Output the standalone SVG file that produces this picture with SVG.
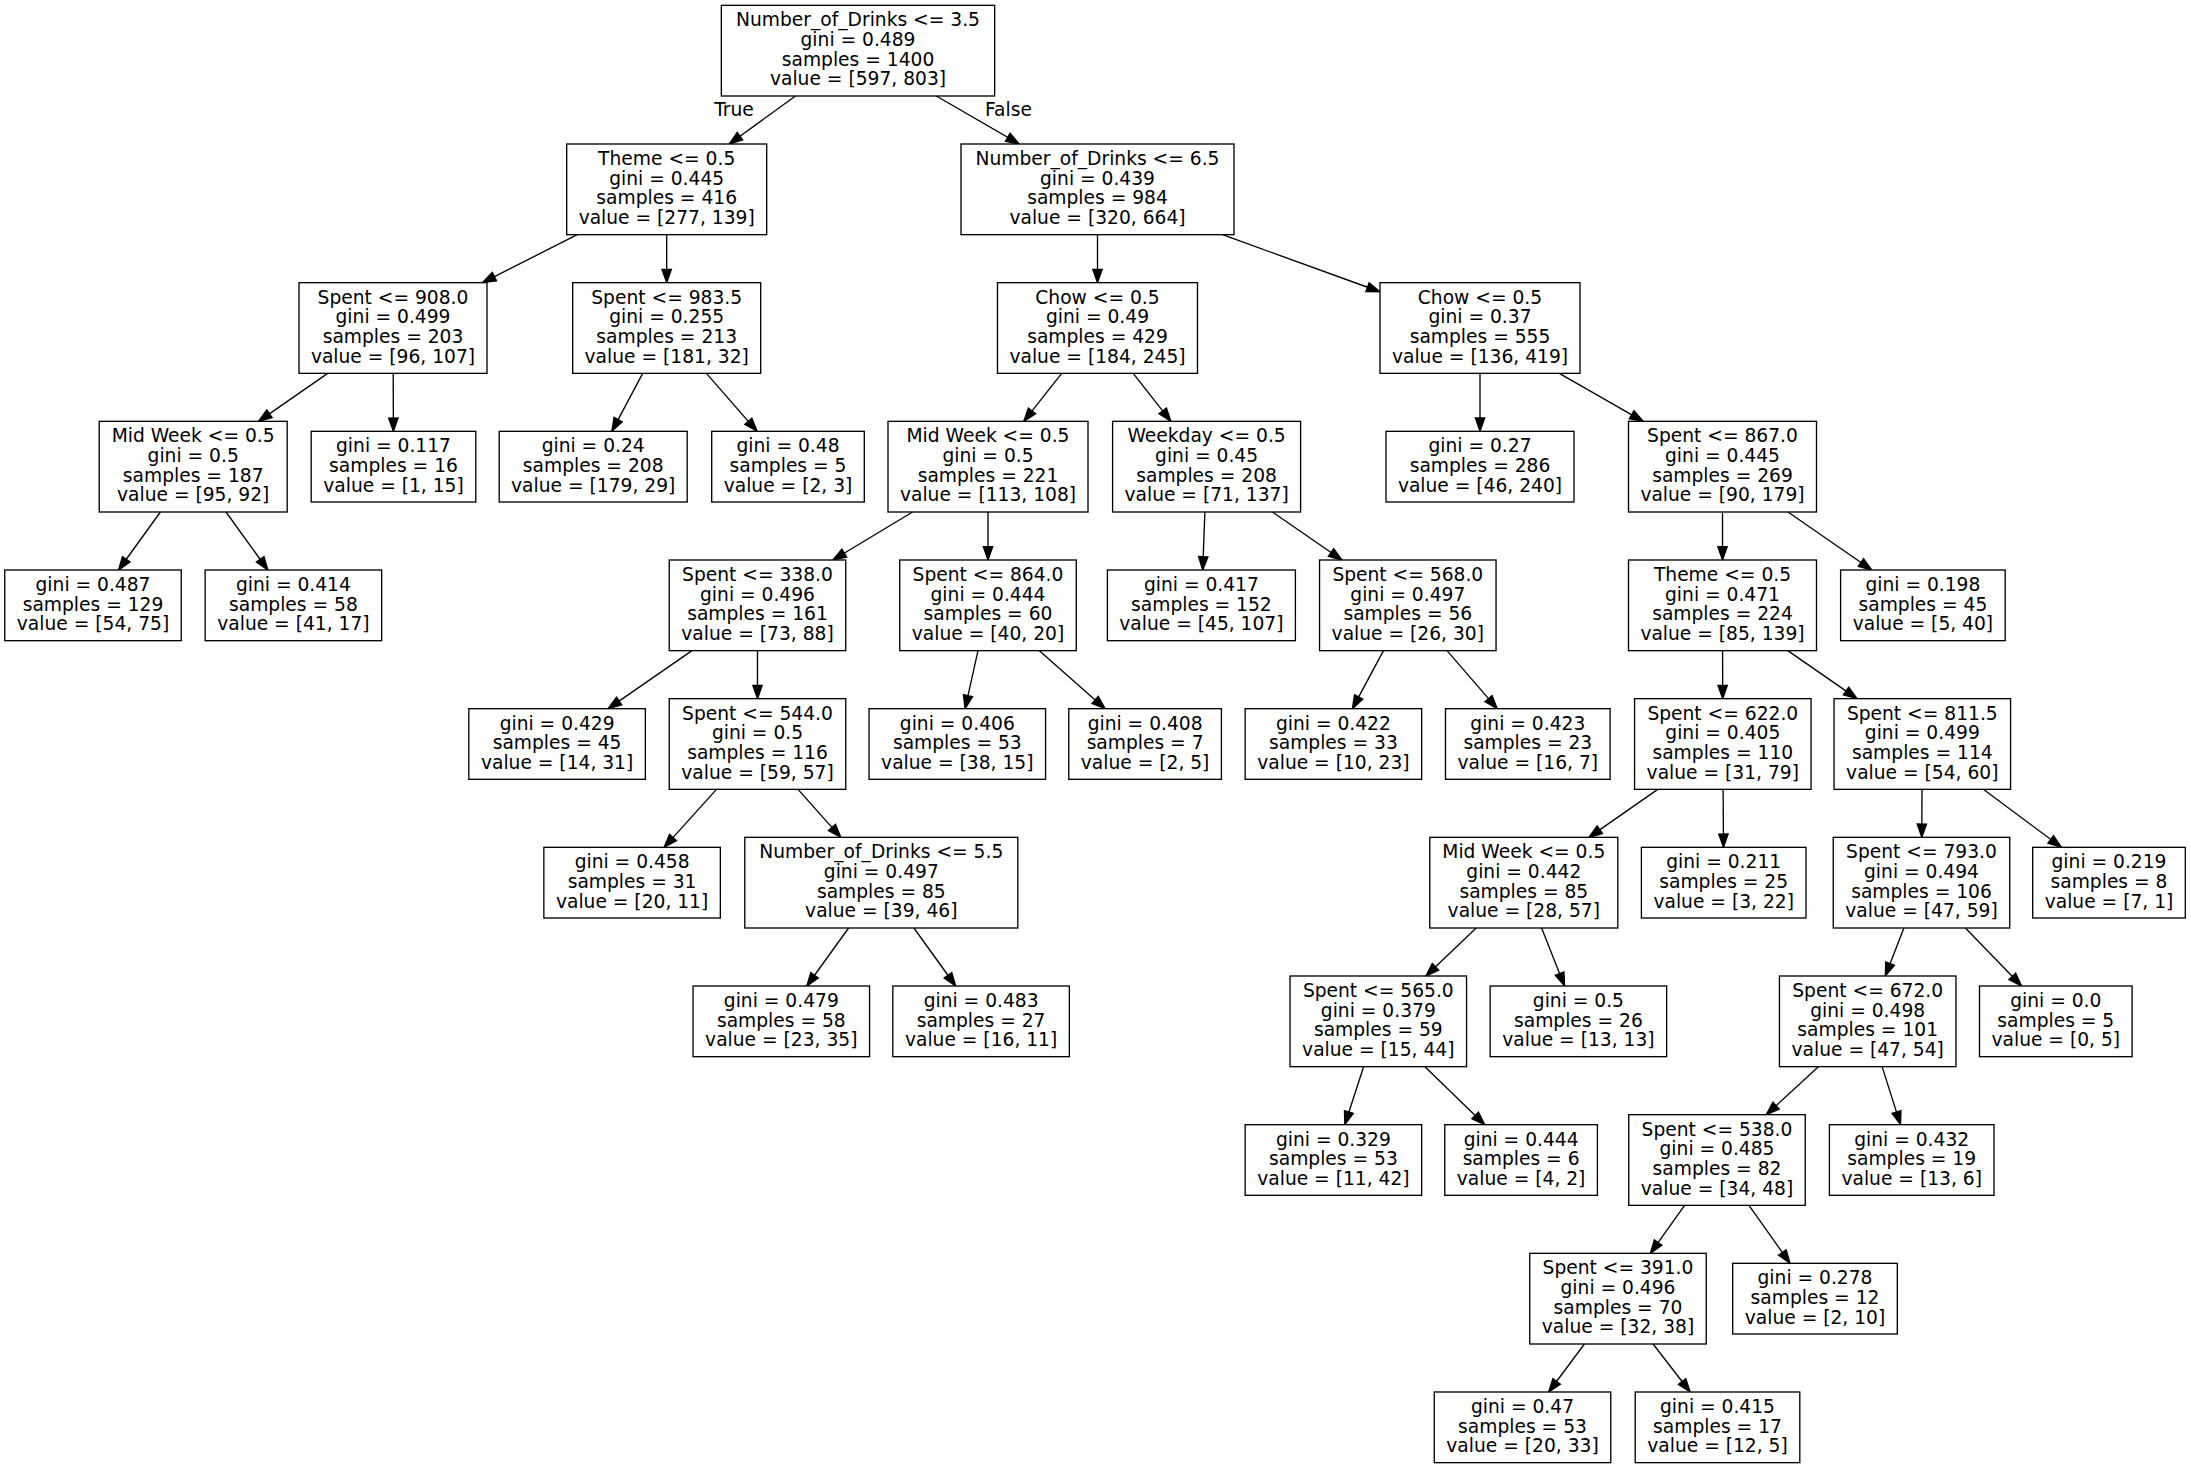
<svg xmlns="http://www.w3.org/2000/svg" width="2191" height="1468" viewBox="0 0 2191 1468">
<style>
.n rect{fill:#fff;stroke:#000;stroke-width:1.33}
text{font-family:"DejaVu Sans","Liberation Sans",sans-serif;font-size:18.67px;text-anchor:middle;fill:#000}
.e line{stroke:#000;stroke-width:1.33;marker-end:url(#ah)}
</style>
<defs>
<marker id="ah" markerUnits="userSpaceOnUse" viewBox="0 -6 15 12" refX="13.3" refY="0" markerWidth="15" markerHeight="12" orient="auto" overflow="visible">
<path d="M0,-4.67L13.3,0L0,4.67z" fill="#000" stroke="#000" stroke-width="1.33"/>
</marker>
</defs>
<rect width="2191" height="1468" fill="#fff"/>
<g id="edges" class="e">
<line x1="795.5" y1="96" x2="729.2" y2="144"/>
<line x1="936.3" y1="96" x2="1019.2" y2="144"/>
<line x1="577.2" y1="234.67" x2="482.5" y2="282.67"/>
<line x1="666.7" y1="234.67" x2="666.7" y2="282.67"/>
<line x1="1097.5" y1="234.67" x2="1097.5" y2="282.67"/>
<line x1="1222.5" y1="234.67" x2="1380" y2="291.75"/>
<line x1="327.7" y1="373.33" x2="258.5" y2="421.33"/>
<line x1="393.2" y1="373.33" x2="393.4" y2="431.33"/>
<line x1="642.7" y1="373.33" x2="611.9" y2="431.33"/>
<line x1="706.4" y1="373.33" x2="757.1" y2="431.33"/>
<line x1="1061.7" y1="373.33" x2="1023.8" y2="421.33"/>
<line x1="1133.2" y1="373.33" x2="1170.9" y2="421.33"/>
<line x1="1480" y1="373.33" x2="1480" y2="431.33"/>
<line x1="1559.3" y1="373.33" x2="1643.2" y2="421.33"/>
<line x1="160.4" y1="512" x2="118.5" y2="570"/>
<line x1="226" y1="512" x2="267.9" y2="570"/>
<line x1="912.6" y1="512" x2="832.9" y2="560"/>
<line x1="988" y1="512" x2="988" y2="560"/>
<line x1="1204.9" y1="512" x2="1202.7" y2="570"/>
<line x1="1272.4" y1="512" x2="1342" y2="560"/>
<line x1="1722.5" y1="512" x2="1722.5" y2="560"/>
<line x1="1788" y1="512" x2="1871.8" y2="570"/>
<line x1="692" y1="650.67" x2="608.2" y2="708.67"/>
<line x1="757.5" y1="650.67" x2="757.5" y2="698.67"/>
<line x1="978" y1="650.67" x2="965.1" y2="708.67"/>
<line x1="1039.4" y1="650.67" x2="1105.1" y2="708.67"/>
<line x1="1383.5" y1="650.67" x2="1352.4" y2="708.67"/>
<line x1="1447" y1="650.67" x2="1497.2" y2="708.67"/>
<line x1="1722.6" y1="650.67" x2="1722.7" y2="698.67"/>
<line x1="1787.8" y1="650.67" x2="1857" y2="698.67"/>
<line x1="716.5" y1="789.33" x2="664.1" y2="847.33"/>
<line x1="798" y1="789.33" x2="840.8" y2="837.33"/>
<line x1="1657.7" y1="789.33" x2="1588.9" y2="837.33"/>
<line x1="1723.1" y1="789.33" x2="1723.5" y2="847.33"/>
<line x1="1922" y1="789.33" x2="1921.8" y2="837.33"/>
<line x1="1983.3" y1="789.33" x2="2061.4" y2="847.33"/>
<line x1="848.6" y1="928" x2="806.8" y2="986"/>
<line x1="913.9" y1="928" x2="955.7" y2="986"/>
<line x1="1476.2" y1="928" x2="1425.9" y2="976"/>
<line x1="1541.6" y1="928" x2="1564.5" y2="986"/>
<line x1="1903.9" y1="928" x2="1885.3" y2="976"/>
<line x1="1965.4" y1="928" x2="2021.6" y2="986"/>
<line x1="1363.6" y1="1066.67" x2="1344.8" y2="1124.67"/>
<line x1="1425" y1="1066.67" x2="1484.7" y2="1124.67"/>
<line x1="1818.4" y1="1066.67" x2="1766.3" y2="1114.67"/>
<line x1="1882.1" y1="1066.67" x2="1900.5" y2="1124.67"/>
<line x1="1684.6" y1="1205.33" x2="1650.4" y2="1253.33"/>
<line x1="1749" y1="1205.33" x2="1790" y2="1263.33"/>
<line x1="1584.4" y1="1344" x2="1548.7" y2="1392"/>
<line x1="1653.1" y1="1344" x2="1690.2" y2="1392"/>
<text x="734" y="116">True</text>
<text x="1008.5" y="116">False</text>
</g>
<g id="n0" class="n"><rect x="721.33" y="5.33" width="273.33" height="90.67"/><text x="858" y="26.33"><tspan x="858">Number_of_Drinks &lt;= 3.5</tspan><tspan x="858" dy="19.7">gini = 0.489</tspan><tspan x="858" dy="19.7">samples = 1400</tspan><tspan x="858" dy="19.7">value = [597, 803]</tspan></text></g>
<g id="n1" class="n"><rect x="566.7" y="144" width="200" height="90.67"/><text x="666.7" y="165"><tspan x="666.7">Theme &lt;= 0.5</tspan><tspan x="666.7" dy="19.7">gini = 0.445</tspan><tspan x="666.7" dy="19.7">samples = 416</tspan><tspan x="666.7" dy="19.7">value = [277, 139]</tspan></text></g>
<g id="n2" class="n"><rect x="961" y="144" width="273" height="90.67"/><text x="1097.5" y="165"><tspan x="1097.5">Number_of_Drinks &lt;= 6.5</tspan><tspan x="1097.5" dy="19.7">gini = 0.439</tspan><tspan x="1097.5" dy="19.7">samples = 984</tspan><tspan x="1097.5" dy="19.7">value = [320, 664]</tspan></text></g>
<g id="n3" class="n"><rect x="299" y="282.67" width="188" height="90.67"/><text x="393" y="303.67"><tspan x="393">Spent &lt;= 908.0</tspan><tspan x="393" dy="19.7">gini = 0.499</tspan><tspan x="393" dy="19.7">samples = 203</tspan><tspan x="393" dy="19.7">value = [96, 107]</tspan></text></g>
<g id="n4" class="n"><rect x="572.7" y="282.67" width="188" height="90.67"/><text x="666.7" y="303.67"><tspan x="666.7">Spent &lt;= 983.5</tspan><tspan x="666.7" dy="19.7">gini = 0.255</tspan><tspan x="666.7" dy="19.7">samples = 213</tspan><tspan x="666.7" dy="19.7">value = [181, 32]</tspan></text></g>
<g id="n5" class="n"><rect x="997.5" y="282.67" width="200" height="90.67"/><text x="1097.5" y="303.67"><tspan x="1097.5">Chow &lt;= 0.5</tspan><tspan x="1097.5" dy="19.7">gini = 0.49</tspan><tspan x="1097.5" dy="19.7">samples = 429</tspan><tspan x="1097.5" dy="19.7">value = [184, 245]</tspan></text></g>
<g id="n6" class="n"><rect x="1380" y="282.67" width="200" height="90.67"/><text x="1480" y="303.67"><tspan x="1480">Chow &lt;= 0.5</tspan><tspan x="1480" dy="19.7">gini = 0.37</tspan><tspan x="1480" dy="19.7">samples = 555</tspan><tspan x="1480" dy="19.7">value = [136, 419]</tspan></text></g>
<g id="n7" class="n"><rect x="99.2" y="421.33" width="188" height="90.67"/><text x="193.2" y="442.33"><tspan x="193.2">Mid Week &lt;= 0.5</tspan><tspan x="193.2" dy="19.7">gini = 0.5</tspan><tspan x="193.2" dy="19.7">samples = 187</tspan><tspan x="193.2" dy="19.7">value = [95, 92]</tspan></text></g>
<g id="n8" class="n"><rect x="311.2" y="431.33" width="164.6" height="70.67"/><text x="393.5" y="452.33"><tspan x="393.5">gini = 0.117</tspan><tspan x="393.5" dy="19.7">samples = 16</tspan><tspan x="393.5" dy="19.7">value = [1, 15]</tspan></text></g>
<g id="n9" class="n"><rect x="499.2" y="431.33" width="188" height="70.67"/><text x="593.2" y="452.33"><tspan x="593.2">gini = 0.24</tspan><tspan x="593.2" dy="19.7">samples = 208</tspan><tspan x="593.2" dy="19.7">value = [179, 29]</tspan></text></g>
<g id="n10" class="n"><rect x="711.7" y="431.33" width="152.6" height="70.67"/><text x="788" y="452.33"><tspan x="788">gini = 0.48</tspan><tspan x="788" dy="19.7">samples = 5</tspan><tspan x="788" dy="19.7">value = [2, 3]</tspan></text></g>
<g id="n11" class="n"><rect x="888" y="421.33" width="200" height="90.67"/><text x="988" y="442.33"><tspan x="988">Mid Week &lt;= 0.5</tspan><tspan x="988" dy="19.7">gini = 0.5</tspan><tspan x="988" dy="19.7">samples = 221</tspan><tspan x="988" dy="19.7">value = [113, 108]</tspan></text></g>
<g id="n12" class="n"><rect x="1112.6" y="421.33" width="188" height="90.67"/><text x="1206.6" y="442.33"><tspan x="1206.6">Weekday &lt;= 0.5</tspan><tspan x="1206.6" dy="19.7">gini = 0.45</tspan><tspan x="1206.6" dy="19.7">samples = 208</tspan><tspan x="1206.6" dy="19.7">value = [71, 137]</tspan></text></g>
<g id="n13" class="n"><rect x="1386" y="431.33" width="188" height="70.67"/><text x="1480" y="452.33"><tspan x="1480">gini = 0.27</tspan><tspan x="1480" dy="19.7">samples = 286</tspan><tspan x="1480" dy="19.7">value = [46, 240]</tspan></text></g>
<g id="n14" class="n"><rect x="1628.5" y="421.33" width="188" height="90.67"/><text x="1722.5" y="442.33"><tspan x="1722.5">Spent &lt;= 867.0</tspan><tspan x="1722.5" dy="19.7">gini = 0.445</tspan><tspan x="1722.5" dy="19.7">samples = 269</tspan><tspan x="1722.5" dy="19.7">value = [90, 179]</tspan></text></g>
<g id="n15" class="n"><rect x="4.75" y="570" width="176.5" height="70.67"/><text x="93" y="591"><tspan x="93">gini = 0.487</tspan><tspan x="93" dy="19.7">samples = 129</tspan><tspan x="93" dy="19.7">value = [54, 75]</tspan></text></g>
<g id="n16" class="n"><rect x="205.15" y="570" width="176.5" height="70.67"/><text x="293.4" y="591"><tspan x="293.4">gini = 0.414</tspan><tspan x="293.4" dy="19.7">samples = 58</tspan><tspan x="293.4" dy="19.7">value = [41, 17]</tspan></text></g>
<g id="n17" class="n"><rect x="669.25" y="560" width="176.5" height="90.67"/><text x="757.5" y="581"><tspan x="757.5">Spent &lt;= 338.0</tspan><tspan x="757.5" dy="19.7">gini = 0.496</tspan><tspan x="757.5" dy="19.7">samples = 161</tspan><tspan x="757.5" dy="19.7">value = [73, 88]</tspan></text></g>
<g id="n18" class="n"><rect x="899.75" y="560" width="176.5" height="90.67"/><text x="988" y="581"><tspan x="988">Spent &lt;= 864.0</tspan><tspan x="988" dy="19.7">gini = 0.444</tspan><tspan x="988" dy="19.7">samples = 60</tspan><tspan x="988" dy="19.7">value = [40, 20]</tspan></text></g>
<g id="n19" class="n"><rect x="1107.4" y="570" width="188" height="70.67"/><text x="1201.4" y="591"><tspan x="1201.4">gini = 0.417</tspan><tspan x="1201.4" dy="19.7">samples = 152</tspan><tspan x="1201.4" dy="19.7">value = [45, 107]</tspan></text></g>
<g id="n20" class="n"><rect x="1319.55" y="560" width="176.5" height="90.67"/><text x="1407.8" y="581"><tspan x="1407.8">Spent &lt;= 568.0</tspan><tspan x="1407.8" dy="19.7">gini = 0.497</tspan><tspan x="1407.8" dy="19.7">samples = 56</tspan><tspan x="1407.8" dy="19.7">value = [26, 30]</tspan></text></g>
<g id="n21" class="n"><rect x="1628.5" y="560" width="188" height="90.67"/><text x="1722.5" y="581"><tspan x="1722.5">Theme &lt;= 0.5</tspan><tspan x="1722.5" dy="19.7">gini = 0.471</tspan><tspan x="1722.5" dy="19.7">samples = 224</tspan><tspan x="1722.5" dy="19.7">value = [85, 139]</tspan></text></g>
<g id="n22" class="n"><rect x="1840.6" y="570" width="164.6" height="70.67"/><text x="1922.9" y="591"><tspan x="1922.9">gini = 0.198</tspan><tspan x="1922.9" dy="19.7">samples = 45</tspan><tspan x="1922.9" dy="19.7">value = [5, 40]</tspan></text></g>
<g id="n23" class="n"><rect x="468.85" y="708.67" width="176.5" height="70.67"/><text x="557.1" y="729.67"><tspan x="557.1">gini = 0.429</tspan><tspan x="557.1" dy="19.7">samples = 45</tspan><tspan x="557.1" dy="19.7">value = [14, 31]</tspan></text></g>
<g id="n24" class="n"><rect x="669.25" y="698.67" width="176.5" height="90.67"/><text x="757.5" y="719.67"><tspan x="757.5">Spent &lt;= 544.0</tspan><tspan x="757.5" dy="19.7">gini = 0.5</tspan><tspan x="757.5" dy="19.7">samples = 116</tspan><tspan x="757.5" dy="19.7">value = [59, 57]</tspan></text></g>
<g id="n25" class="n"><rect x="869.05" y="708.67" width="176.5" height="70.67"/><text x="957.3" y="729.67"><tspan x="957.3">gini = 0.406</tspan><tspan x="957.3" dy="19.7">samples = 53</tspan><tspan x="957.3" dy="19.7">value = [38, 15]</tspan></text></g>
<g id="n26" class="n"><rect x="1068.8" y="708.67" width="152.6" height="70.67"/><text x="1145.1" y="729.67"><tspan x="1145.1">gini = 0.408</tspan><tspan x="1145.1" dy="19.7">samples = 7</tspan><tspan x="1145.1" dy="19.7">value = [2, 5]</tspan></text></g>
<g id="n27" class="n"><rect x="1245.15" y="708.67" width="176.5" height="70.67"/><text x="1333.4" y="729.67"><tspan x="1333.4">gini = 0.422</tspan><tspan x="1333.4" dy="19.7">samples = 33</tspan><tspan x="1333.4" dy="19.7">value = [10, 23]</tspan></text></g>
<g id="n28" class="n"><rect x="1445.5" y="708.67" width="164.6" height="70.67"/><text x="1527.8" y="729.67"><tspan x="1527.8">gini = 0.423</tspan><tspan x="1527.8" dy="19.7">samples = 23</tspan><tspan x="1527.8" dy="19.7">value = [16, 7]</tspan></text></g>
<g id="n29" class="n"><rect x="1634.55" y="698.67" width="176.5" height="90.67"/><text x="1722.8" y="719.67"><tspan x="1722.8">Spent &lt;= 622.0</tspan><tspan x="1722.8" dy="19.7">gini = 0.405</tspan><tspan x="1722.8" dy="19.7">samples = 110</tspan><tspan x="1722.8" dy="19.7">value = [31, 79]</tspan></text></g>
<g id="n30" class="n"><rect x="1834.05" y="698.67" width="176.5" height="90.67"/><text x="1922.3" y="719.67"><tspan x="1922.3">Spent &lt;= 811.5</tspan><tspan x="1922.3" dy="19.7">gini = 0.499</tspan><tspan x="1922.3" dy="19.7">samples = 114</tspan><tspan x="1922.3" dy="19.7">value = [54, 60]</tspan></text></g>
<g id="n31" class="n"><rect x="543.85" y="847.33" width="176.5" height="70.67"/><text x="632.1" y="868.33"><tspan x="632.1">gini = 0.458</tspan><tspan x="632.1" dy="19.7">samples = 31</tspan><tspan x="632.1" dy="19.7">value = [20, 11]</tspan></text></g>
<g id="n32" class="n"><rect x="744.8" y="837.33" width="273" height="90.67"/><text x="881.3" y="858.33"><tspan x="881.3">Number_of_Drinks &lt;= 5.5</tspan><tspan x="881.3" dy="19.7">gini = 0.497</tspan><tspan x="881.3" dy="19.7">samples = 85</tspan><tspan x="881.3" dy="19.7">value = [39, 46]</tspan></text></g>
<g id="n33" class="n"><rect x="1429.8" y="837.33" width="188" height="90.67"/><text x="1523.8" y="858.33"><tspan x="1523.8">Mid Week &lt;= 0.5</tspan><tspan x="1523.8" dy="19.7">gini = 0.442</tspan><tspan x="1523.8" dy="19.7">samples = 85</tspan><tspan x="1523.8" dy="19.7">value = [28, 57]</tspan></text></g>
<g id="n34" class="n"><rect x="1641.4" y="847.33" width="164.6" height="70.67"/><text x="1723.7" y="868.33"><tspan x="1723.7">gini = 0.211</tspan><tspan x="1723.7" dy="19.7">samples = 25</tspan><tspan x="1723.7" dy="19.7">value = [3, 22]</tspan></text></g>
<g id="n35" class="n"><rect x="1833.25" y="837.33" width="176.5" height="90.67"/><text x="1921.5" y="858.33"><tspan x="1921.5">Spent &lt;= 793.0</tspan><tspan x="1921.5" dy="19.7">gini = 0.494</tspan><tspan x="1921.5" dy="19.7">samples = 106</tspan><tspan x="1921.5" dy="19.7">value = [47, 59]</tspan></text></g>
<g id="n36" class="n"><rect x="2032.7" y="847.33" width="152.6" height="70.67"/><text x="2109" y="868.33"><tspan x="2109">gini = 0.219</tspan><tspan x="2109" dy="19.7">samples = 8</tspan><tspan x="2109" dy="19.7">value = [7, 1]</tspan></text></g>
<g id="n37" class="n"><rect x="693.05" y="986" width="176.5" height="70.67"/><text x="781.3" y="1007"><tspan x="781.3">gini = 0.479</tspan><tspan x="781.3" dy="19.7">samples = 58</tspan><tspan x="781.3" dy="19.7">value = [23, 35]</tspan></text></g>
<g id="n38" class="n"><rect x="892.85" y="986" width="176.5" height="70.67"/><text x="981.1" y="1007"><tspan x="981.1">gini = 0.483</tspan><tspan x="981.1" dy="19.7">samples = 27</tspan><tspan x="981.1" dy="19.7">value = [16, 11]</tspan></text></g>
<g id="n39" class="n"><rect x="1290.05" y="976" width="176.5" height="90.67"/><text x="1378.3" y="997"><tspan x="1378.3">Spent &lt;= 565.0</tspan><tspan x="1378.3" dy="19.7">gini = 0.379</tspan><tspan x="1378.3" dy="19.7">samples = 59</tspan><tspan x="1378.3" dy="19.7">value = [15, 44]</tspan></text></g>
<g id="n40" class="n"><rect x="1490.15" y="986" width="176.5" height="70.67"/><text x="1578.4" y="1007"><tspan x="1578.4">gini = 0.5</tspan><tspan x="1578.4" dy="19.7">samples = 26</tspan><tspan x="1578.4" dy="19.7">value = [13, 13]</tspan></text></g>
<g id="n41" class="n"><rect x="1779.45" y="976" width="176.5" height="90.67"/><text x="1867.7" y="997"><tspan x="1867.7">Spent &lt;= 672.0</tspan><tspan x="1867.7" dy="19.7">gini = 0.498</tspan><tspan x="1867.7" dy="19.7">samples = 101</tspan><tspan x="1867.7" dy="19.7">value = [47, 54]</tspan></text></g>
<g id="n42" class="n"><rect x="1979.5" y="986" width="152.6" height="70.67"/><text x="2055.8" y="1007"><tspan x="2055.8">gini = 0.0</tspan><tspan x="2055.8" dy="19.7">samples = 5</tspan><tspan x="2055.8" dy="19.7">value = [0, 5]</tspan></text></g>
<g id="n43" class="n"><rect x="1245.15" y="1124.67" width="176.5" height="70.67"/><text x="1333.4" y="1145.67"><tspan x="1333.4">gini = 0.329</tspan><tspan x="1333.4" dy="19.7">samples = 53</tspan><tspan x="1333.4" dy="19.7">value = [11, 42]</tspan></text></g>
<g id="n44" class="n"><rect x="1444.8" y="1124.67" width="152.6" height="70.67"/><text x="1521.1" y="1145.67"><tspan x="1521.1">gini = 0.444</tspan><tspan x="1521.1" dy="19.7">samples = 6</tspan><tspan x="1521.1" dy="19.7">value = [4, 2]</tspan></text></g>
<g id="n45" class="n"><rect x="1628.75" y="1114.67" width="176.5" height="90.67"/><text x="1717" y="1135.67"><tspan x="1717">Spent &lt;= 538.0</tspan><tspan x="1717" dy="19.7">gini = 0.485</tspan><tspan x="1717" dy="19.7">samples = 82</tspan><tspan x="1717" dy="19.7">value = [34, 48]</tspan></text></g>
<g id="n46" class="n"><rect x="1829.4" y="1124.67" width="164.6" height="70.67"/><text x="1911.7" y="1145.67"><tspan x="1911.7">gini = 0.432</tspan><tspan x="1911.7" dy="19.7">samples = 19</tspan><tspan x="1911.7" dy="19.7">value = [13, 6]</tspan></text></g>
<g id="n47" class="n"><rect x="1529.75" y="1253.33" width="176.5" height="90.67"/><text x="1618" y="1274.33"><tspan x="1618">Spent &lt;= 391.0</tspan><tspan x="1618" dy="19.7">gini = 0.496</tspan><tspan x="1618" dy="19.7">samples = 70</tspan><tspan x="1618" dy="19.7">value = [32, 38]</tspan></text></g>
<g id="n48" class="n"><rect x="1732.7" y="1263.33" width="164.6" height="70.67"/><text x="1815" y="1284.33"><tspan x="1815">gini = 0.278</tspan><tspan x="1815" dy="19.7">samples = 12</tspan><tspan x="1815" dy="19.7">value = [2, 10]</tspan></text></g>
<g id="n49" class="n"><rect x="1434.25" y="1392" width="176.5" height="70.67"/><text x="1522.5" y="1413"><tspan x="1522.5">gini = 0.47</tspan><tspan x="1522.5" dy="19.7">samples = 53</tspan><tspan x="1522.5" dy="19.7">value = [20, 33]</tspan></text></g>
<g id="n50" class="n"><rect x="1635.2" y="1392" width="164.6" height="70.67"/><text x="1717.5" y="1413"><tspan x="1717.5">gini = 0.415</tspan><tspan x="1717.5" dy="19.7">samples = 17</tspan><tspan x="1717.5" dy="19.7">value = [12, 5]</tspan></text></g>
</svg>
